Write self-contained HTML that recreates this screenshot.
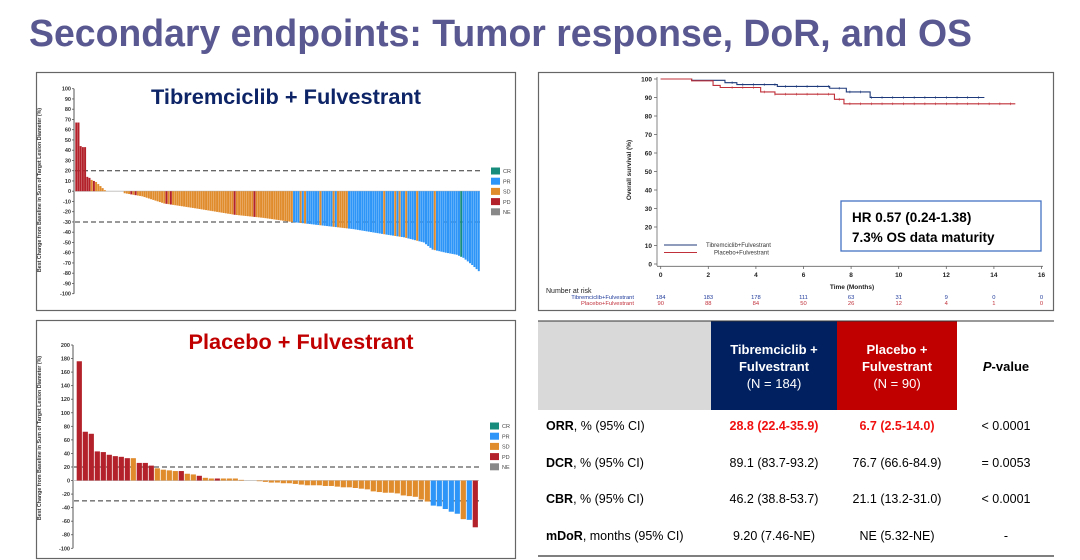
<!DOCTYPE html>
<html><head><meta charset="utf-8"><style>
html,body{margin:0;padding:0;background:#fff;}
svg{display:block;font-family:"Liberation Sans",Arial,sans-serif;}
</style></head><body>
<svg id="s" width="1080" height="560" viewBox="0 0 1080 560" xmlns="http://www.w3.org/2000/svg">
<text x="29" y="46" font-size="38" font-weight="bold" fill="#5A5890" textLength="943" lengthAdjust="spacingAndGlyphs">Secondary endpoints: Tumor response, DoR, and OS</text>
<rect x="36.5" y="72.5" width="479" height="238" fill="none" stroke="#666" stroke-width="1.2"/>
<rect x="36.5" y="320.5" width="479" height="238" fill="none" stroke="#666" stroke-width="1.2"/>
<rect x="538.5" y="72.5" width="515" height="238" fill="none" stroke="#666" stroke-width="1.2"/>
<text x="286" y="104" font-size="21" font-weight="bold" fill="#0D2466" text-anchor="middle" textLength="270" lengthAdjust="spacingAndGlyphs">Tibremciclib + Fulvestrant</text>
<text x="301" y="349" font-size="21" font-weight="bold" fill="#C00000" text-anchor="middle" textLength="225" lengthAdjust="spacingAndGlyphs">Placebo + Fulvestrant</text>
<g id="w1"></g><g id="w2"></g><g id="km"></g>
<rect x="538" y="321" width="173" height="89" fill="#D9D9D9"/>
<rect x="711" y="321" width="126" height="89" fill="#002060"/>
<rect x="837" y="321" width="120" height="89" fill="#C00000"/>
<line x1="538" y1="321" x2="1054" y2="321" stroke="#333" stroke-width="1"/>
<line x1="538" y1="556" x2="1054" y2="556" stroke="#333" stroke-width="1.2"/>
<g font-size="13" text-anchor="middle" fill="#fff">
<text x="774" y="354" font-weight="bold">Tibremciclib +</text>
<text x="774" y="371" font-weight="bold">Fulvestrant</text>
<text x="774" y="388">(N = 184)</text>
<text x="897" y="354" font-weight="bold">Placebo +</text>
<text x="897" y="371" font-weight="bold">Fulvestrant</text>
<text x="897" y="388">(N = 90)</text>
</g>
<text x="1006" y="371" font-size="13" font-weight="bold" text-anchor="middle" fill="#000"><tspan font-style="italic">P</tspan>-value</text>
<g font-size="12.5" fill="#000">
<text x="546" y="430"><tspan font-weight="bold">ORR</tspan>, % (95% CI)</text>
<text x="546" y="467"><tspan font-weight="bold">DCR</tspan>, % (95% CI)</text>
<text x="546" y="503"><tspan font-weight="bold">CBR</tspan>, % (95% CI)</text>
<text x="546" y="540"><tspan font-weight="bold">mDoR</tspan>, months (95% CI)</text>
</g>
<g font-size="12.5" fill="#000" text-anchor="middle">
<text x="774" y="430" fill="#F01010" font-weight="bold">28.8 (22.4-35.9)</text>
<text x="897" y="430" fill="#F01010" font-weight="bold">6.7 (2.5-14.0)</text>
<text x="1006" y="430">&lt; 0.0001</text>
<text x="774" y="467">89.1 (83.7-93.2)</text>
<text x="897" y="467">76.7 (66.6-84.9)</text>
<text x="1006" y="467">= 0.0053</text>
<text x="774" y="503">46.2 (38.8-53.7)</text>
<text x="897" y="503">21.1 (13.2-31.0)</text>
<text x="1006" y="503">&lt; 0.0001</text>
<text x="774" y="540">9.20 (7.46-NE)</text>
<text x="897" y="540">NE (5.32-NE)</text>
<text x="1006" y="540">-</text>
</g>
</svg>
<script>
const NS="http://www.w3.org/2000/svg";
function el(p,t,a,txt){const e=document.createElementNS(NS,t);for(const k in a)e.setAttribute(k,a[k]);if(txt!==undefined)e.textContent=txt;p.appendChild(e);return e;}
const C={CR:"#178C7C",PR:"#2D95F7",SD:"#E08B2C",PD:"#B3222A",NE:"#888888"};
function interp(anch,i){for(let k=0;k<anch.length-1;k++){const[a,va]=anch[k],[b,vb]=anch[k+1];if(i>=a&&i<=b)return va+(vb-va)*(i-a)/(b-a);}return anch[anch.length-1][1];}
function axisEtc(g,ax,ytop,ybot,vmax,vmin,step,xend,dash,legX,legY,yl){
  const sc=(ybot-ytop)/(vmax-vmin);const Y=v=>ytop+(vmax-v)*sc;
  el(g,"line",{x1:ax,y1:ytop,x2:ax,y2:ybot,stroke:"#555","stroke-width":1});
  for(let v=vmax;v>=vmin;v-=step){el(g,"line",{x1:ax-2,y1:Y(v),x2:ax,y2:Y(v),stroke:"#555","stroke-width":0.8});
   el(g,"text",{x:ax-3,y:Y(v)+2,"font-size":5.5,"font-weight":"bold","text-anchor":"end",fill:"#333"},v);}
  el(g,"line",{x1:ax,y1:Y(0),x2:xend,y2:Y(0),stroke:"#bbb","stroke-width":0.8});
  for(const d of dash)el(g,"line",{x1:ax+1,y1:Y(d),x2:xend+3,y2:Y(d),stroke:"#333","stroke-width":1,"stroke-dasharray":"5,3"});
  ["CR","PR","SD","PD","NE"].forEach((k,j)=>{const yy=legY+j*10.2;el(g,"rect",{x:legX,y:yy-3.5,width:9,height:7,fill:C[k]});el(g,"text",{x:legX+12,y:yy+2.2,"font-size":5.5,fill:"#444"},k);});
  el(g,"text",{transform:`translate(${yl[0]},${yl[1]}) rotate(-90)`,"font-size":5.3,"font-weight":"bold","text-anchor":"middle",fill:"#333"},"Best Change from Baseline in Sum of Target Lesion Diameter (%)");
  return Y;
}
(function(){const g=document.getElementById("w1");
 const Y=axisEtc(g,74,88.7,293.7,100,-100,10,480,[20,-30],491,171,[41,190]);
 const anch=[[0,67],[1,67],[2,44],[3,43],[4,43],[5,14],[6,13],[7,11],[9,9],[11,5],[13,1],[14,0],[21,0],[22,-2],[30,-5],[40,-12],[55,-17],[72,-23],[85,-26],[98,-30],[110,-33],[126,-37],[140,-42],[149,-45],[158,-50],[162,-57],[168,-60],[173,-62],[176,-65],[180,-72],[183,-78]];
 const red=[0,1,2,3,4,5,6,8,25,27,41,43,72,81];const ora=[102,104,111,117,119,120,121,122,123,140,145,147,150,155,163];
 const n=184,x0=75.3,w=(480-75.3)/n;
 for(let i=0;i<n;i++){const v=interp(anch,i);let c;
  if(red.includes(i))c=C.PD;else if(i==175)c=C.CR;else if(i<99)c=C.SD;else c=ora.includes(i)?C.SD:C.PR;
  const y0=Y(0),y1=Y(v);el(g,"rect",{x:x0+i*w,y:Math.min(y0,y1),width:w*0.9,height:Math.max(Math.abs(y1-y0),0.01),fill:c});}
})();
(function(){const g=document.getElementById("w2");
 const Y=axisEtc(g,73,345,548.3,200,-100,20,479,[20,-30],490,426,[41,438]);
 const P="PD",S="SD",R="PR";
 const d=[[176,P],[72,P],[69,P],[43,P],[42,P],[38,P],[36,P],[35,P],[33,P],[33,S],[26,P],[26,P],[22,P],[18,S],[16,S],[15,S],[14,S],[14,P],[10,S],[9,S],[7,P],[4,S],[3,S],[3,P],[3,S],[3,S],[3,S],[1,S],[0,S],[0,S]];
 const neg=[-1,-2,-3,-3,-4,-4,-5,-6,-7,-7,-7,-8,-8,-9,-10,-10,-11,-12,-13,-16,-17,-18,-18,-19,-22,-23,-24,-25,-27,-28,-31];
 neg.slice(0,29).forEach((v,i)=>d.push([neg[i+ (i>=27?2:0)],S]));
 d.push([-37,R],[-38,R],[-42,R],[-46,R],[-49,R],[-57,S],[-58,R],[-69,P]);
 d.forEach(([v,c],i)=>{const y0=Y(0),y1=Y(v);el(g,"rect",{x:76.7+i*6,y:Math.min(y0,y1),width:5.2,height:Math.max(Math.abs(y1-y0),0.01),fill:C[c==P?"PD":c==S?"SD":"PR"]});});
})();
(function(){const g=document.getElementById("km");
 const X=m=>660.7+m*23.8,Y=v=>264-v*1.85;
 el(g,"line",{x1:657,y1:Y(100)-2,x2:657,y2:Y(0)+2,stroke:"#666","stroke-width":0.8});
 el(g,"line",{x1:657,y1:266.3,x2:1043,y2:266.3,stroke:"#666","stroke-width":0.8});
 for(let v=0;v<=100;v+=10){el(g,"line",{x1:654,y1:Y(v),x2:657,y2:Y(v),stroke:"#666","stroke-width":0.8});el(g,"text",{x:652,y:Y(v)+2.3,"font-size":6.5,"font-weight":"bold","text-anchor":"end",fill:"#222"},v);}
 for(let m=0;m<=16;m+=2){el(g,"line",{x1:X(m),y1:266.3,x2:X(m),y2:269,stroke:"#666","stroke-width":0.8});el(g,"text",{x:X(m),y:277,"font-size":6.5,"font-weight":"bold","text-anchor":"middle",fill:"#222"},m);}
 el(g,"text",{x:852,y:289,"font-size":6.5,"font-weight":"bold","text-anchor":"middle",fill:"#222"},"Time (Months)");
 el(g,"text",{transform:"translate(631,170) rotate(-90)","font-size":6.5,"font-weight":"bold","text-anchor":"middle",fill:"#222"},"Overall survival (%)");
 function curve(st,col,end){let p=`M${X(0)},${Y(100)}`;for(const[t,v]of st){p+=` H${X(t)} V${Y(v)}`;}p+=` H${X(end)}`;el(g,"path",{d:p,fill:"none",stroke:col,"stroke-width":1.1});
  for(let t=3;t<end;t+=0.45){let v=100;for(const[tt,vv]of st)if(tt<=t)v=vv;el(g,"line",{x1:X(t),y1:Y(v)-1.3,x2:X(t),y2:Y(v)+1.3,stroke:col,"stroke-width":0.6});}}
 curve([[1.3,99.3],[2.7,98],[3.2,97],[4.9,96],[7.1,95],[7.8,93],[8.8,90]],"#1F3A7A",13.6);
 curve([[1.3,99],[2.2,96.5],[2.5,95.4],[4.2,93],[4.8,91.8],[7.3,89],[7.7,86.6]],"#C0303A",14.9);
 el(g,"line",{x1:664,y1:245,x2:697,y2:245,stroke:"#1F3A7A","stroke-width":1});
 el(g,"line",{x1:664,y1:252.5,x2:697,y2:252.5,stroke:"#C0303A","stroke-width":1});
 el(g,"text",{x:706,y:247,"font-size":6,fill:"#333"},"Tibremciclib+Fulvestrant");
 el(g,"text",{x:714,y:254.5,"font-size":6,fill:"#333"},"Placebo+Fulvestrant");
 el(g,"rect",{x:841,y:201,width:200,height:50,fill:"none",stroke:"#4472C4","stroke-width":1.3});
 el(g,"text",{x:852,y:222,"font-size":13.5,"font-weight":"bold",fill:"#000"},"HR 0.57 (0.24-1.38)");
 el(g,"text",{x:852,y:242,"font-size":13.5,"font-weight":"bold",fill:"#000"},"7.3% OS data maturity");
 el(g,"text",{x:546,y:293,"font-size":7,fill:"#222"},"Number at risk");
 el(g,"text",{x:634,y:299,"font-size":5.8,"text-anchor":"end",fill:"#1F3A9A"},"Tibremciclib+Fulvestrant");
 el(g,"text",{x:634,y:305,"font-size":5.8,"text-anchor":"end",fill:"#C0303A"},"Placebo+Fulvestrant");
 const a=[184,183,178,111,63,31,9,0,0],b=[90,88,84,50,26,12,4,1,0];
 a.forEach((v,i)=>{el(g,"text",{x:X(i*2),y:299,"font-size":5.8,"text-anchor":"middle",fill:"#1F3A9A"},v);el(g,"text",{x:X(i*2),y:305,"font-size":5.8,"text-anchor":"middle",fill:"#C0303A"},b[i]);});
})();
</script>
</body></html>
